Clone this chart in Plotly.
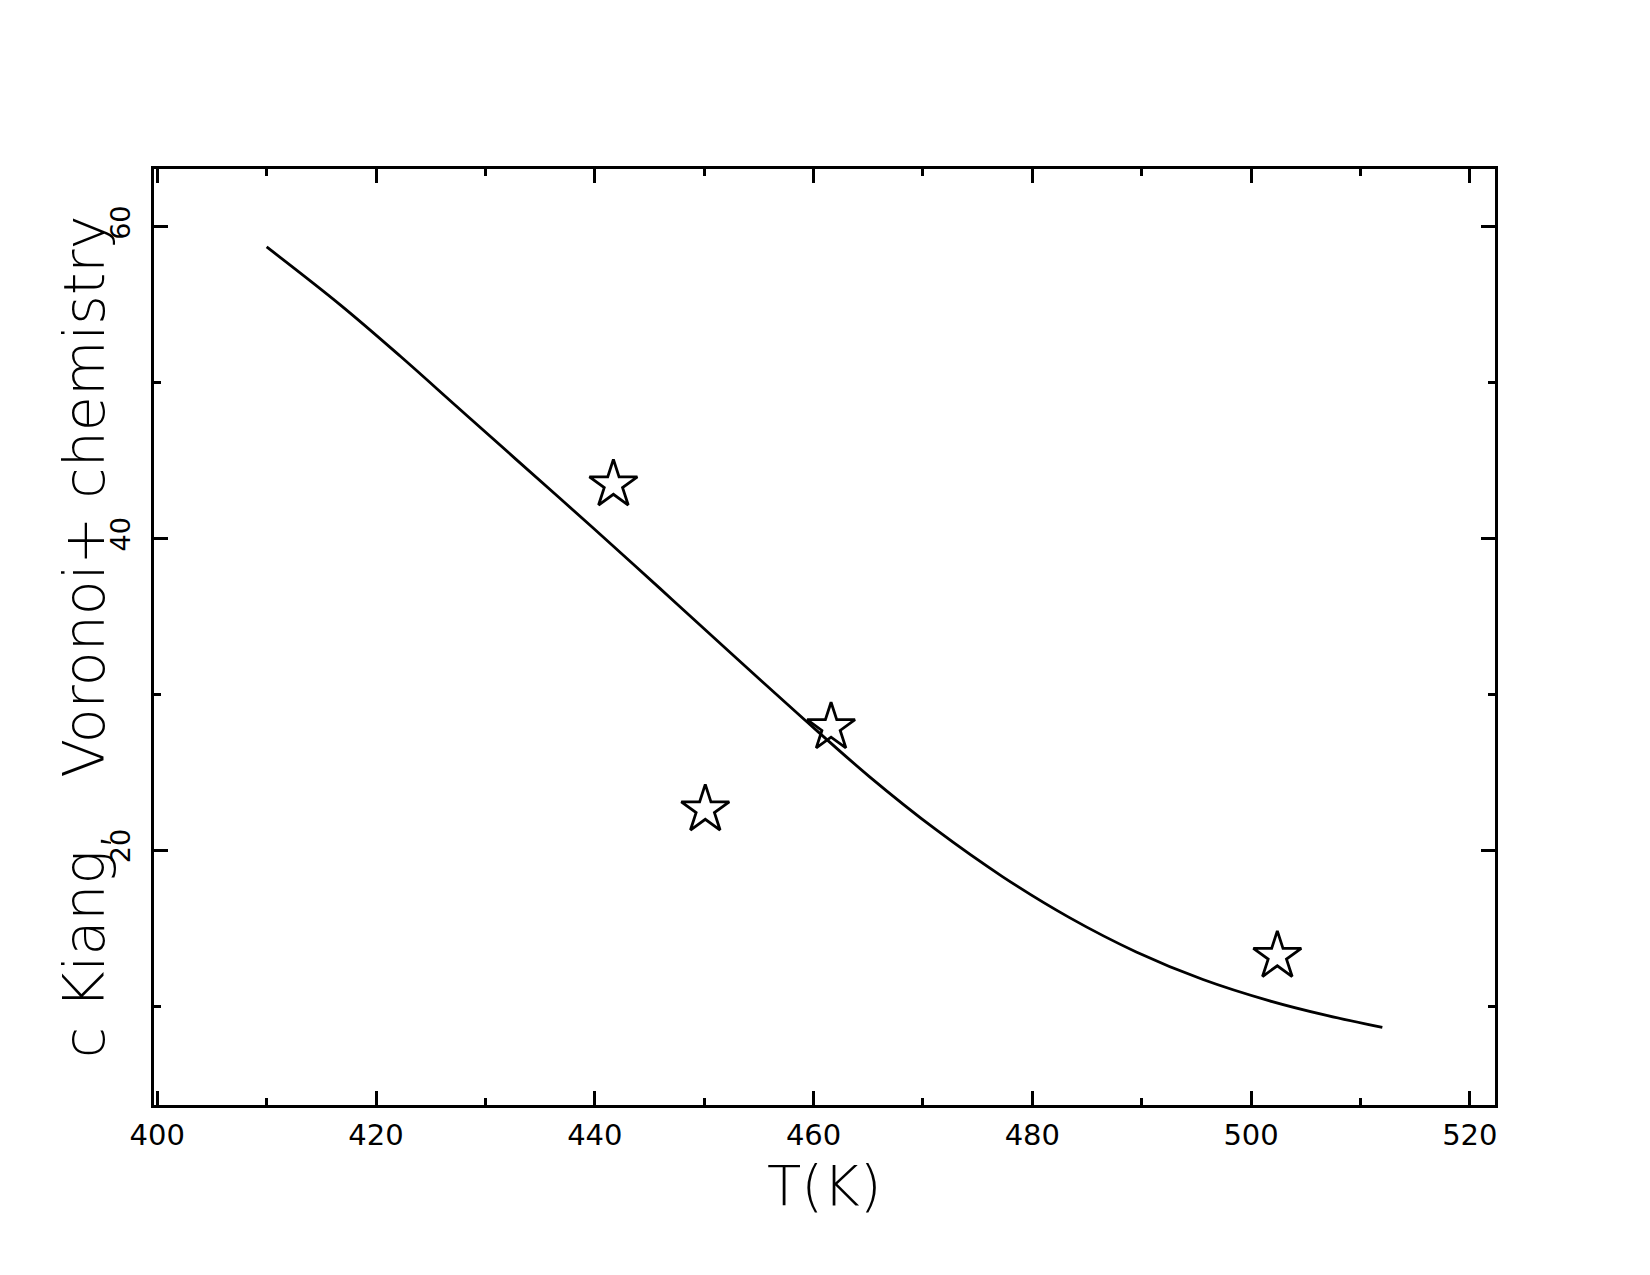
import plotly.graph_objects as go

# Model curve (solid line)
curve_T = [410, 416.7, 422.2, 427.3, 432.8, 439.8, 446, 452.3, 459, 465.1, 471.2, 477.3, 483.4, 489.5, 495.6, 501.7, 507, 512]
curve_c = [58.7, 55.0, 51.7, 48.51, 45.07, 40.7, 36.76, 32.73, 28.48, 24.72, 21.31, 18.29, 15.67, 13.47, 11.70, 10.33, 9.38, 8.63]

# Data points (open stars)
star_T = [441.7, 450.1, 461.6, 502.4]
star_c = [43.45, 22.6, 27.87, 13.2]

x_ticks = [400, 420, 440, 460, 480, 500, 520]
y_ticks = [20, 40, 60]

FONT = "DejaVu Sans"

fig = go.Figure()
fig.add_trace(go.Scatter(x=curve_T, y=curve_c, mode="lines",
                         line=dict(color="black", width=2.8, shape="spline", smoothing=1.0),
                         showlegend=False))
fig.add_trace(go.Scatter(x=star_T, y=star_c, mode="markers",
                         marker=dict(symbol="star-open", size=36, color="black",
                                     line=dict(color="black", width=2.8)),
                         showlegend=False))

axis_common = dict(showline=True, linecolor="black", linewidth=3, mirror="ticks",
                   ticks="inside", ticklen=14, tickwidth=2.5, tickcolor="black",
                   showgrid=False, zeroline=False)

fig.update_xaxes(range=[399.7, 522.3], tickvals=x_ticks, ticktext=[str(v) for v in x_ticks],
                 minor=dict(ticks="inside", ticklen=7, tickwidth=2.5, tickcolor="black", dtick=10, tick0=400),
                 ticklabelstandoff=2,
                 tickfont=dict(family=FONT, size=29, color="black"),
                 **axis_common)
fig.update_yaxes(range=[3.65, 63.7], tickvals=y_ticks, ticktext=[str(v) for v in y_ticks],
                 tickangle=-90, ticklabelstandoff=10,
                 tickfont=dict(family=FONT, size=27, color="black"),
                 minor=dict(ticks="inside", ticklen=7, tickwidth=2.5, tickcolor="black", dtick=10, tick0=0),
                 **axis_common)

# Axis titles placed as annotations to match their positions in the reference
fig.add_annotation(text="T(K)", xref="paper", yref="paper", x=0.5, y=-0.086,
                   xanchor="center", yanchor="middle", showarrow=False, borderpad=0,
                   font=dict(family=FONT, size=56, color="black", weight=200))
fig.add_annotation(text="c Kiang,\u00a0\u00a0\u00a0Voronoi+\u00a0chemistry",
                   xref="paper", yref="paper", x=-0.052, y=0.5,
                   xanchor="center", yanchor="middle", textangle=-90, showarrow=False,
                   font=dict(family=FONT, size=57, color="black", weight=200))

fig.update_layout(width=1650, height=1275,
                  margin=dict(l=154, r=155, t=169, b=170, autoexpand=False),
                  paper_bgcolor="white", plot_bgcolor="white",
                  font=dict(family=FONT, color="black"))

fig.write_html("out.html")
